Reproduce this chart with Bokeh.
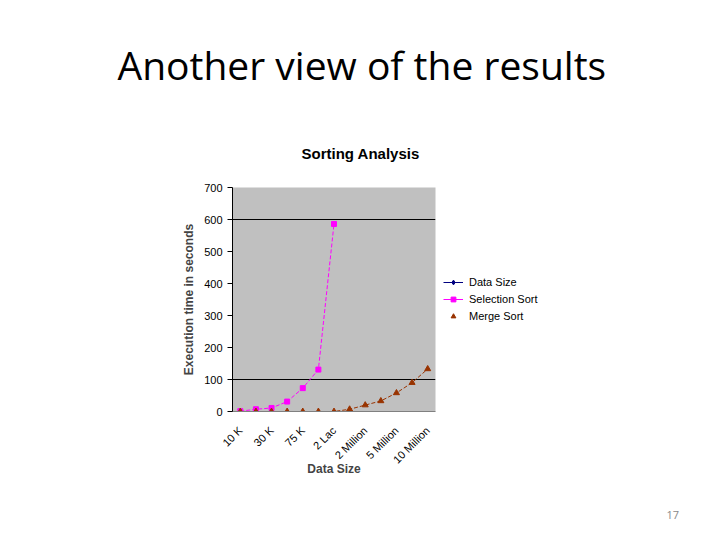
import numpy as np
from bokeh.plotting import figure
from bokeh.models import Legend, LegendItem, FixedTicker, Range1d, Title
from bokeh.embed import file_html
from bokeh.resources import INLINE

# ---- data ----
positions = list(range(1, 14))
tick_labels = ["10 K", "30 K", "75 K", "2 Lac", "2 Million", "5 Million", "10 Million"]
labelled_positions = [1, 3, 5, 7, 9, 11, 13]
data_size = [np.nan] * 13
selection_sort = [1, 7, 11, 31, 73, 131, 586, np.nan, np.nan, np.nan, np.nan, np.nan, np.nan]
merge_sort = [0, 0, 0, 0, 0, 0, 0, 7, 20, 33, 58, 90, 133]

FONT = "Liberation Sans"
W, H = 712, 532
FL, FR, FT, FB = 232, 435, 187, 411   # frame edges on the page

p = figure(width=W, height=H, output_backend="svg", toolbar_location=None,
           x_range=Range1d(0.5, 13.5), y_range=Range1d(0, 700),
           min_border_left=FL, min_border_right=W - FR,
           min_border_top=FT, min_border_bottom=H - FB, title=None)
p.frame_width = FR - FL
p.frame_height = FB - FT
p.background_fill_color = "#C0C0C0"
p.border_fill_color = "white"
p.outline_line_color = None

p.xgrid.visible = False
p.ygrid.ticker = FixedTicker(ticks=[100, 600])
p.ygrid.grid_line_color = "black"
p.ygrid.grid_line_width = 1

p.yaxis.ticker = FixedTicker(ticks=[0, 100, 200, 300, 400, 500, 600, 700])
p.yaxis.axis_label = "Execution time in seconds"
p.yaxis.axis_label_text_font = FONT
p.yaxis.axis_label_text_font_style = "bold"
p.yaxis.axis_label_text_font_size = "12px"
p.yaxis.axis_label_standoff = 5
p.yaxis.major_label_text_font = FONT
p.yaxis.major_label_text_font_size = "11px"
p.yaxis.major_label_text_color = "black"
p.yaxis.axis_line_color = "black"
p.yaxis.major_tick_line_color = "black"
p.yaxis.major_tick_out = 5
p.yaxis.major_tick_in = 0
p.yaxis.minor_tick_line_color = None

p.xaxis.ticker = FixedTicker(ticks=labelled_positions)
p.xaxis.major_label_overrides = {k: v for k, v in zip(labelled_positions, tick_labels)}
p.xaxis.major_label_orientation = np.pi / 4
p.xaxis.major_label_text_font = FONT
p.xaxis.major_label_text_font_size = "11px"
p.xaxis.major_label_text_color = "black"
p.xaxis.major_label_standoff = 11
p.xaxis.major_tick_line_color = None
p.xaxis.minor_tick_line_color = None
p.xaxis.axis_line_color = "#808080"
p.xaxis.axis_label = "Data Size"
p.xaxis.axis_label_text_font = FONT
p.xaxis.axis_label_text_font_style = "bold"
p.xaxis.axis_label_text_font_size = "12px"
p.xaxis.axis_label_standoff = -11

ds_line = p.line(positions, data_size, line_color="#000080", line_width=1)
ds_pts = p.scatter(positions, data_size, marker="diamond", size=7, color="#000080")

ss_line = p.line(positions, selection_sort, line_color="#FF00FF", line_width=1, line_dash="4 2")
ss_pts = p.scatter(positions, selection_sort, marker="square", size=5, color="#FF00FF")
# solid stroke used only as the legend swatch (draws nothing on the plot)
ss_key = p.line([np.nan], [np.nan], line_color="#FF00FF", line_width=1)

ms_line = p.line(positions, merge_sort, line_color="#993300", line_width=1, line_dash="4 2")
ms_pts = p.scatter(positions, merge_sort, marker="triangle", size=6, color="#993300")

legend = Legend(items=[
    LegendItem(label="Data Size", renderers=[ds_line, ds_pts]),
    LegendItem(label="Selection Sort", renderers=[ss_key, ss_pts]),
    LegendItem(label="Merge Sort", renderers=[ms_pts]),
], location="left")
legend.label_text_font = FONT
legend.label_text_font_size = "11px"
legend.label_text_color = "black"
legend.glyph_width = 20
legend.glyph_height = 12
legend.label_height = 12
legend.spacing = 5
legend.label_standoff = 6
legend.padding = 0
legend.margin = 8
legend.border_line_color = None
legend.background_fill_alpha = 0
p.add_layout(legend, "right")

# titles above the frame (first added = closest to the frame)
p.add_layout(Title(text="Sorting Analysis", align="left", offset=301 - FL,
                   text_font=FONT, text_font_style="bold", text_font_size="15px",
                   text_color="black", standoff=52), "above")
p.add_layout(Title(text="Another view of the results", align="left", offset=117 - FL,
                   text_font="Open Sans", text_font_style="normal", text_font_size="39px",
                   text_color="black", standoff=52), "above")

# slide number below
p.add_layout(Title(text="17", align="left", offset=666 - FL,
                   text_font="Open Sans", text_font_style="normal", text_font_size="11px",
                   text_color="#898989", standoff=60), "below")

open("out.html", "w").write(file_html(p, INLINE))
